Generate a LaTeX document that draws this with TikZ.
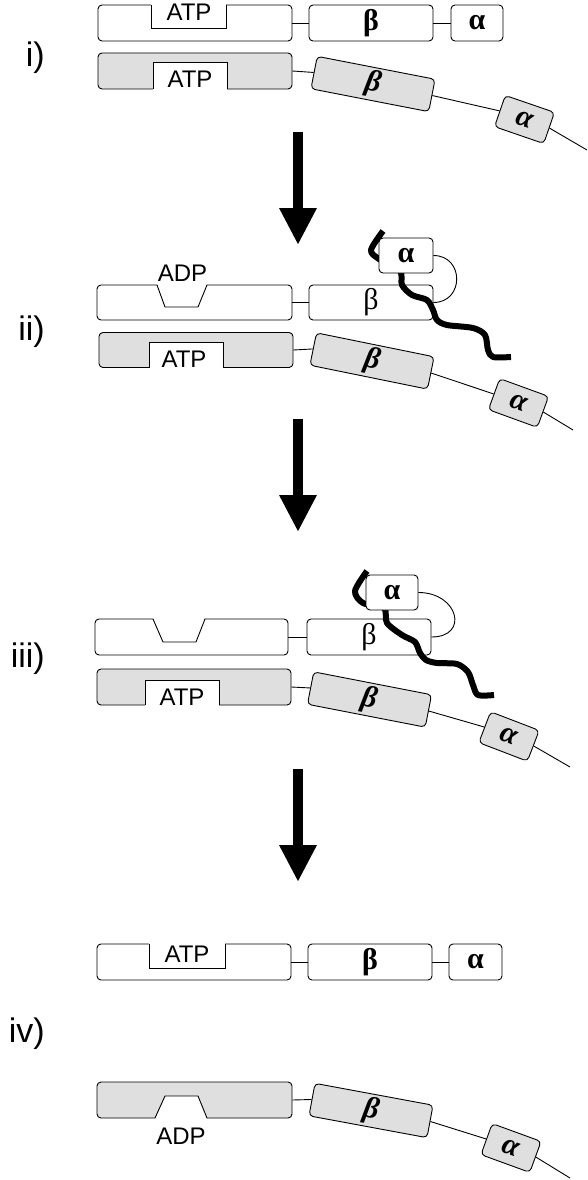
\documentclass[tikz,border=0pt]{standalone}
\usepackage{fontspec}
\setmainfont{Liberation Sans}
\newfontfamily\gkfont{Liberation Serif}
\usetikzlibrary{arrows.meta}
\definecolor{gfill}{HTML}{DFDFDF}
\begin{document}
\begin{tikzpicture}[x=1pt,y=-1pt,
  box/.style={draw, line width=0.9pt, rounded corners=4pt, inner sep=0pt, minimum height=36pt, anchor=center},
  wbox/.style={box, fill=white},
  gbox/.style={box, fill=gfill},
  gk/.style={font=\gkfont\fontsize{30}{30}\selectfont\bfseries},
  gkr/.style={font=\gkfont\fontsize{30}{30}\selectfont},
  gki/.style={font=\gkfont\fontsize{30}{30}\selectfont\bfseries\itshape},
  nuc/.style={font=\fontsize{24}{24}\selectfont, anchor=base, inner sep=0pt},
  lbl/.style={font=\fontsize{34}{34}\selectfont, anchor=base east, inner sep=0pt},
  link/.style={line width=0.9pt},
  notch/.style={line width=0.9pt},
  thread/.style={line width=6pt, line join=round},
  bigarrow/.style={line width=10pt, -{Triangle[width=35pt,length=37pt]}}
]
\path[fill=white, use as bounding box] (0,0) rectangle (588,1180);

% labels
\node[lbl] (L1) at (45,67) {i)};
\node[lbl] (L2) at (45,340) {ii)};
\node[lbl] (L3) at (45,667) {iii)};
\node[lbl] (L4) at (45,1042) {iv)};

% arrows
\coordinate (ar1s) at (298,132); \coordinate (ar1e) at (298,245);
\coordinate (ar2s) at (298,419); \coordinate (ar2e) at (298,532);
\coordinate (ar3s) at (298,769); \coordinate (ar3e) at (298,882);
\draw[bigarrow] (ar1s) -- (ar1e);
\draw[bigarrow] (ar2s) -- (ar2e);
\draw[bigarrow] (ar3s) -- (ar3e);

% ===== panel i =====
\node[wbox, minimum width=194pt] (w1) at (195,23) {};
\fill[white] (151,3.5) rectangle (226,28);
\draw[notch] (151,5) -- (151,28) -- (226,28) -- (226,5);
\node[nuc] (t1) at (189,21) {ATP};
\node[wbox, gk, minimum width=124pt] (b1) at (371,23) {β};
\node[wbox, gk, minimum width=52pt] (a1) at (477,23) {α};
\draw[link] (w1.east) -- (b1.west);
\draw[link] (b1.east) -- (a1.west);

\node[gbox, minimum width=194pt] (g1) at (195,71) {};
\fill[white] (153,62) rectangle (227,90.5);
\draw[notch] (153,89) -- (153,62) -- (227,62) -- (227,89);
\node[nuc] (t1g) at (190,88) {ATP};
\node[gbox, gki, minimum width=120pt, minimum height=33pt, rotate=-11] (gb1) at (373,84) {β};
\node[gbox, gki, minimum width=52pt, minimum height=33pt, rotate=-19] (ga1) at (524.5,119.5) {α};
\coordinate (e1) at (587,150);
\draw[link] (g1.east) -- (gb1.west);
\draw[link] (gb1.east) -- (ga1.west);
\draw[link] (ga1.east) -- (e1);

% ===== panel ii =====
\node[wbox, minimum width=195pt, minimum height=35pt] (w2) at (194.5,302.5) {};
\fill[white] (157,283.5) -- (165,307) -- (198,307) -- (207,283.5) -- cycle;
\draw[notch] (157,285) -- (165,307) -- (198,307) -- (207,285);
\node[nuc] (t2) at (182.5,281) {ADP};
\node[wbox, gkr, minimum width=124pt, minimum height=35pt] (b2) at (371,302.5) {β};
\draw[link] (w2.east) -- (b2.west);
\draw[thread] plot[smooth, tension=0.5] coordinates {(383,231) (371,250) (379,259) (400,271) (402,285) (412,295) (427,300) (433,310) (437,320) (447,325) (473,328) (485,335) (488,350) (493,357) (511,357)};
\node[wbox, gk, minimum width=54pt, minimum height=35pt] (a2) at (406,255.5) {α};
\draw[link] (a2.east) .. controls +(31,0) and +(31,0) .. (b2.east);

\node[gbox, minimum width=194pt, minimum height=35pt] (g2) at (196,350) {};
\fill[white] (149,342) rectangle (223,369);
\draw[notch] (149,367.5) -- (149,342) -- (223,342) -- (223,367.5);
\node[nuc] (t2g) at (184,367) {ATP};
\node[gbox, gki, minimum width=120pt, minimum height=33pt, rotate=-11.5] (gb2) at (372,361) {β};
\node[gbox, gki, minimum width=52pt, minimum height=33pt, rotate=-20] (ga2) at (518.5,403) {α};
\coordinate (e2) at (573,430);
\draw[link] (g2.east) -- (gb2.west);
\draw[link] (gb2.east) -- (ga2.west);
\draw[link] (ga2.east) -- (e2);

% ===== panel iii =====
\node[wbox, minimum width=193pt] (w3) at (191.5,637) {};
\fill[white] (153,617.5) -- (163,642) -- (196,642) -- (205,617.5) -- cycle;
\draw[notch] (153,619) -- (163,642) -- (196,642) -- (205,619);
\node[wbox, gkr, minimum width=124pt] (b3) at (369,637) {β};
\draw[link] (w3.east) -- (b3.west);
\draw[thread] plot[smooth, tension=0.5] coordinates {(367,571) (355,591) (363,603) (384,608) (387,623) (402,635) (415,642) (420,653) (426,660) (437,663) (457,664) (468,672) (473,685) (478,695) (494,695)};
\node[wbox, gk, minimum width=52pt, minimum height=35pt] (a3) at (392,592.5) {α};
\draw[link] (a3.east) .. controls +(40,0) and +(38,0) .. (b3.east);

\node[gbox, minimum width=194pt] (g3) at (194,687) {};
\fill[white] (145,680) rectangle (219,706.5);
\draw[notch] (145,705) -- (145,680) -- (219,680) -- (219,705);
\node[nuc] (t3g) at (182,705) {ATP};
\node[gbox, gki, minimum width=120pt, minimum height=33pt, rotate=-11] (gb3) at (369.5,699.5) {β};
\node[gbox, gki, minimum width=52pt, minimum height=33pt, rotate=-21] (ga3) at (509,736.5) {α};
\coordinate (e3) at (570,767);
\draw[link] (g3.east) -- (gb3.west);
\draw[link] (gb3.east) -- (ga3.west);
\draw[link] (ga3.east) -- (e3);

% ===== panel iv =====
\node[wbox, minimum width=194pt] (w4) at (194,962) {};
\fill[white] (149,942.5) rectangle (225,968);
\draw[notch] (149,944) -- (149,968) -- (225,968) -- (225,944);
\node[nuc] (t4) at (187,962) {ATP};
\node[wbox, gk, minimum width=124pt] (b4) at (370,962) {β};
\node[wbox, gk, minimum width=53pt] (a4) at (475.5,962) {α};
\draw[link] (w4.east) -- (b4.west);
\draw[link] (b4.east) -- (a4.west);

\node[gbox, minimum width=195pt] (g4) at (194.5,1100) {};
\fill[white] (155,1119.5) -- (165,1096) -- (198,1096) -- (207,1119.5) -- cycle;
\draw[notch] (155,1118) -- (165,1096) -- (198,1096) -- (207,1118);
\node[nuc] (t4g) at (181,1144) {ADP};
\node[gbox, gki, minimum width=120pt, minimum height=33pt, rotate=-10.5] (gb4) at (371,1110.5) {β};
\node[gbox, gki, minimum width=52pt, minimum height=33pt, rotate=-20] (ga4) at (511,1148) {α};
\coordinate (e4) at (570,1178);
\draw[link] (g4.east) -- (gb4.west);
\draw[link] (gb4.east) -- (ga4.west);
\draw[link] (ga4.east) -- (e4);
\end{tikzpicture}
\end{document}
